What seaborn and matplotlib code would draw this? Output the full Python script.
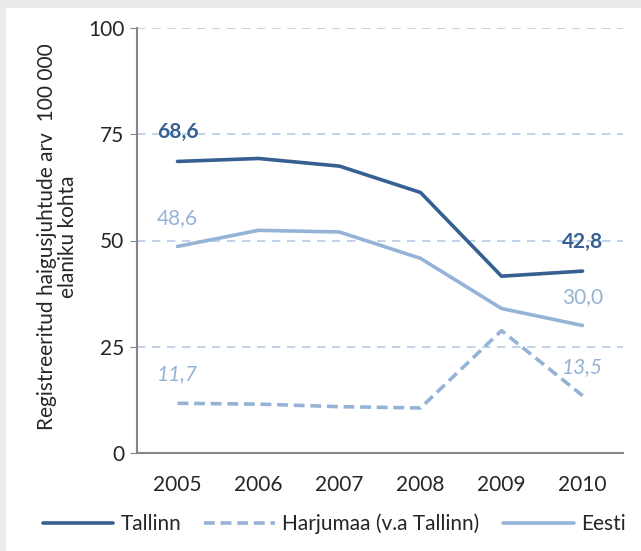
import matplotlib
matplotlib.use('Agg')
import matplotlib.pyplot as plt
import matplotlib.patches as mpatches
import seaborn as sns
import pandas as pd
import numpy as np

years = ['2005', '2006', '2007', '2008', '2009', '2010']
tallinn = [68.6, 69.3, 67.5, 61.3, 41.6, 42.8]
harjumaa = [11.7, 11.5, 10.9, 10.6, 28.8, 13.5]
eesti = [48.6, 52.4, 52.0, 45.8, 34.0, 30.0]
series_names = ['Tallinn', 'Harjumaa (v.a Tallinn)', 'Eesti']
yticks = [0, 25, 50, 75, 100]

dark = '#366092'
light = '#95b3d7'
grid_col = '#b8cce4'
axis_col = '#868686'
fs = 15

sns.set_style('white')
plt.rcParams['font.family'] = ['Lato', 'DejaVu Sans']

rows = []
for name, vals in zip(series_names, [tallinn, harjumaa, eesti]):
    for i, v in enumerate(vals):
        rows.append({'x': i, 'value': v, 'series': name})
df = pd.DataFrame(rows)

fig = plt.figure(figsize=(6.41, 5.51), dpi=100, facecolor='#ebebeb')
# white panel inside the grey frame
fig.add_artist(mpatches.Rectangle((6 / 641, 0), 1, 1 - 8 / 551, transform=fig.transFigure,
                                  facecolor='white', edgecolor='none', zorder=-10))
ax = fig.add_axes([137 / 641, 98 / 551, 486 / 641, 425 / 551])
ax.set_facecolor('none')

palette = {'Tallinn': dark, 'Harjumaa (v.a Tallinn)': light, 'Eesti': light}
dashes = {'Tallinn': '', 'Harjumaa (v.a Tallinn)': (3, 1.6), 'Eesti': ''}
sns.lineplot(data=df, x='x', y='value', hue='series', style='series', palette=palette,
             dashes=dashes, hue_order=series_names, style_order=series_names,
             linewidth=2.6, ax=ax, legend=True)

for y in yticks[1:]:
    ax.axhline(y, color=grid_col, linestyle=(0, (5, 4)), linewidth=1.2, zorder=0)

ax.set_xlim(-0.5, 5.5)
ax.set_ylim(0, 100)
ax.set_yticks(yticks)
ax.set_yticklabels([str(t) for t in yticks], fontsize=fs)
ax.set_xticks(range(len(years)))
ax.set_xticklabels(years, fontsize=fs)
ax.set_xticks(np.arange(-0.5, 6, 1), minor=True)
ax.tick_params(axis='x', which='major', length=0, pad=16)
ax.tick_params(axis='x', which='minor', length=5, color=axis_col, direction='out')
ax.tick_params(axis='y', length=5, color=axis_col, direction='out', pad=4, left=True)
ax.set_xlabel('')
ax.set_ylabel('Registreeritud haigusjuhtude arv  100 000\nelaniku kohta', fontsize=fs,
              linespacing=1.1)
ax.yaxis.set_label_coords(-0.121, 0.51)

for side in ['top', 'right']:
    ax.spines[side].set_visible(False)
for side in ['left', 'bottom']:
    ax.spines[side].set_color(axis_col)
    ax.spines[side].set_linewidth(1.5)

# data labels at first and last points
ax.text(0, 75.6, '68,6', color=dark, fontsize=fs, fontweight='bold', ha='center', va='center')
ax.text(0, 55.3, '48,6', color=light, fontsize=fs, ha='center', va='center')
ax.text(0, 18.5, '11,7', color=light, fontsize=fs, style='italic', ha='center', va='center')
ax.text(5, 49.7, '42,8', color=dark, fontsize=fs, fontweight='bold', ha='center', va='center')
ax.text(5, 36.8, '30,0', color=light, fontsize=fs, ha='center', va='center')
ax.text(5, 20.1, '13,5', color=light, fontsize=fs, style='italic', ha='center', va='center')

handles, labels = ax.get_legend_handles_labels()
ax.legend(handles, labels, loc='center', bbox_to_anchor=(334 / 641, 27 / 551),
          bbox_transform=fig.transFigure, ncol=3, frameon=False, fontsize=fs,
          handlelength=3.4, handletextpad=0.35, columnspacing=1.1, borderpad=0)

fig.savefig('out.png', dpi=100, facecolor=fig.get_facecolor())
